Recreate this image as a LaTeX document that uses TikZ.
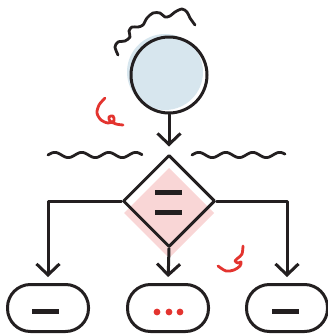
\documentclass[tikz,border=0pt]{standalone}
\usepackage{tikz}
\usetikzlibrary{shapes.geometric, arrows.meta}
\definecolor{ink}{HTML}{231F20}
\definecolor{skyfill}{HTML}{D7E6EE}
\definecolor{rosefill}{HTML}{F9D6D6}
\definecolor{redink}{HTML}{E3342F}
\tikzset{
    x=1pt, y=-1pt, % pixel-like units, y grows downwards
    every path/.style={line width=3pt, ink, line cap=round, line join=round}, % thick dark strokes
    >={Straight Barb[length=11pt, width=23pt]}, % open v-shaped heads
    start/.style={circle, draw, minimum size=76pt, inner sep=0pt}, % the round start node
    decision/.style={diamond, draw, minimum width=92pt, minimum height=92pt, inner sep=0pt}, % the test
    terminal/.style={rectangle, draw, rounded corners=23pt, minimum width=81pt, minimum height=47pt}, % end boxes
    wave/.style={line width=2.8pt}, % scribbles
    scribble/.style={line width=2.8pt, redink}, % red scribbles
    bar/.style={line width=5pt, line cap=butt}, % signs inside nodes
}
\begin{document}
\begin{tikzpicture}
    \useasboundingbox (0,0) rectangle (328,334);
    % shadows behind the nodes
    \fill[skyfill] (165,72) circle (38);
    \fill[rosefill] (169,168) -- (214,213) -- (169,258) -- (124,213) -- cycle;
    % nodes
    \node[start] (s) at (169,75) {};
    \node[decision] (d) at (169,201) {};
    \node[terminal] (t1) at (48,308) {};
    \node[terminal] (t2) at (168,308) {};
    \node[terminal] (t3) at (287,308) {};
    % edges
    \draw[->, shorten >=7pt] (s) -- (d);
    \draw[->, shorten >=6pt] (d.west) -| (t1.north);
    \draw[->, shorten >=6pt] (d.south) -- (t2.north);
    \draw[->, shorten >=6pt] (d.east) -| (t3.north);
    % signs
    \draw[bar] (155,192) -- (182,192);
    \draw[bar] (155,212) -- (182,212);
    \draw[bar] (32,311) -- (59,311);
    \draw[bar] (272,311) -- (299,311);
    \foreach \dx in {157,169,180}
        \fill[redink] (\dx,312) circle (3.4);
    % scribbles
    \draw[wave] plot[smooth] coordinates {(118,55) (115,47) (118,42) (125,41) (130,37) (129,31) (132,27) (138,27) (143,25) (147,18) (153,13) (160,13) (165,17) (170,16) (175,12) (182,9) (187,12) (190,18) (195,25)};
    \draw[wave] plot[domain=0:94, samples=80] ({48+\x}, {155-2.6*sin(\x*13.333)});
    \draw[wave] plot[domain=0:93, samples=80] ({192+\x}, {155-2.6*sin(\x*13.333)});
    \draw[scribble] plot[smooth] coordinates {(105,98) (99,105) (97,113) (101,120) (108,123) (114,121) (113,116) (109,117) (110,121) (116,124) (123,125)};
    \draw[scribble] plot[smooth] coordinates {(243,246) (242,254) (238,258) (235,261) (238,263) (241,262) (240,266) (234,270) (226,271) (218,266)};
\end{tikzpicture}
\end{document}
